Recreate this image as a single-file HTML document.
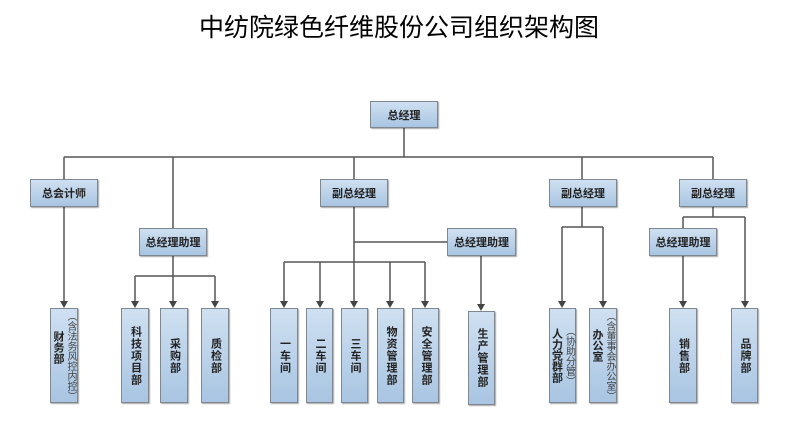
<!DOCTYPE html>
<html><head><meta charset="utf-8"><style>
body{margin:0;width:798px;height:422px;background:#fff;position:relative;overflow:hidden;font-family:"Liberation Sans","Noto Sans CJK SC",sans-serif}
.t{position:absolute;left:0;top:8px;width:798px;text-align:center;font-size:25px;color:#000;font-family:"Liberation Sans","Noto Sans CJK SC",sans-serif}
.b{position:absolute;box-sizing:border-box;border:1px solid #7f8790;background:linear-gradient(#cfe0f1,#a9c5e2);box-shadow:1px 1px 1px rgba(0,0,0,.35);font-size:11px;color:#222;display:flex;align-items:center;justify-content:center;font-weight:bold}
.v{writing-mode:vertical-rl;line-height:13px;letter-spacing:1px;white-space:nowrap}
.w{writing-mode:vertical-rl;line-height:12px;white-space:nowrap}
.s{font-weight:normal;color:#444;font-size:10px;letter-spacing:0}
.b2{flex-direction:row;gap:0}
svg{position:absolute;left:0;top:0}
</style></head><body>
<div class="t">中纺院绿色纤维股份公司组织架构图</div>
<svg width="798" height="422">
<g stroke="#555" stroke-width="1.5" fill="none">
<path d="M404 128V157M64 157H713M64 157V179M173 157V228M354 157V179M582 157V179M713 157V179"/>
<path d="M64 207V302"/>
<path d="M173 256V276M135 276H215M135 276V302M173 276V302M215 276V302"/>
<path d="M354 207V302M354 242H447M284 262H425M284 262V302M320 262V302M390 262V302M425 262V302"/>
<path d="M481 256V305"/>
<path d="M582 207V227M562 227H603M562 227V302M603 227V302"/>
<path d="M713 207V217M683 217H745M683 217V228M683 256V302M745 217V302"/>
</g>
<g fill="#444">
<path d="M60 301H68L64 308Z"/><path d="M131 301H139L135 308Z"/><path d="M169 301H177L173 308Z"/><path d="M211 301H219L215 308Z"/>
<path d="M280 301H288L284 308Z"/><path d="M316 301H324L320 308Z"/><path d="M350 301H358L354 308Z"/><path d="M386 301H394L390 308Z"/><path d="M421 301H429L425 308Z"/>
<path d="M477 304H485L481 311Z"/>
<path d="M558 301H566L562 308Z"/><path d="M599 301H607L603 308Z"/>
<path d="M679 301H687L683 308Z"/><path d="M741 301H749L745 308Z"/>
</g></svg>
<div class="b" style="left:370px;top:101px;width:68px;height:27px">总经理</div>
<div class="b" style="left:30px;top:179px;width:68px;height:28px">总会计师</div>
<div class="b" style="left:320px;top:179px;width:68px;height:28px">副总经理</div>
<div class="b" style="left:549px;top:179px;width:68px;height:28px">副总经理</div>
<div class="b" style="left:679px;top:179px;width:68px;height:28px">副总经理</div>
<div class="b" style="left:139px;top:228px;width:68px;height:28px">总经理助理</div>
<div class="b" style="left:447px;top:228px;width:69px;height:28px">总经理助理</div>
<div class="b" style="left:649px;top:228px;width:68px;height:28px">总经理助理</div>
<div class="b" style="left:50px;top:308px;width:28px;height:95px"><div class="w" style="margin-top:-16px">财务部</div><div class="w s">（含法务风控内控）</div></div>
<div class="b" style="left:121px;top:308px;width:28px;height:95px"><div class="v">科技项目部</div></div>
<div class="b" style="left:160px;top:308px;width:28px;height:95px"><div class="v">采购部</div></div>
<div class="b" style="left:201px;top:308px;width:28px;height:95px"><div class="v">质检部</div></div>
<div class="b" style="left:270px;top:308px;width:28px;height:95px"><div class="v">一车间</div></div>
<div class="b" style="left:306px;top:308px;width:27px;height:95px"><div class="v">二车间</div></div>
<div class="b" style="left:341px;top:308px;width:27px;height:95px"><div class="v">三车间</div></div>
<div class="b" style="left:377px;top:308px;width:27px;height:95px"><div class="v">物资管理部</div></div>
<div class="b" style="left:412px;top:308px;width:27px;height:95px"><div class="v">安全管理部</div></div>
<div class="b" style="left:468px;top:311px;width:27px;height:94px"><div class="v">生产管理部</div></div>
<div class="b" style="left:549px;top:308px;width:27px;height:95px"><div class="w">人力党群部</div><div class="w s">（协助分管）</div></div>
<div class="b" style="left:589px;top:308px;width:28px;height:95px"><div class="w" style="margin-top:-20px">办公室</div><div class="w s">（含董事会办公室）</div></div>
<div class="b" style="left:669px;top:308px;width:28px;height:95px"><div class="v">销售部</div></div>
<div class="b" style="left:731px;top:308px;width:27px;height:95px"><div class="v">品牌部</div></div>
</body></html>
